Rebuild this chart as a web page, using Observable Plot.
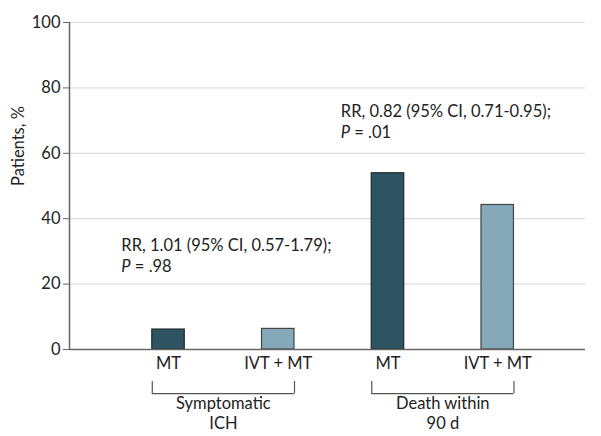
<!DOCTYPE html>
<html><head><meta charset="utf-8">
<script src="https://cdn.jsdelivr.net/npm/d3@7"></script>
<script src="https://cdn.jsdelivr.net/npm/@observablehq/plot@0.6"></script>
<style>body{margin:0;background:#fff}</style>
</head><body><div id="chart"></div>
<script>
const groups = ["Symptomatic\nICH", "Death within\n90 d"];
const treatments = ["MT", "IVT + MT"];
const positions = [1, 2, 3, 4];
const values = [6.1, 6.3, 53.9, 44.2];
const barTreatment = ["MT", "IVT + MT", "MT", "IVT + MT"];
const barGroup = [0, 0, 1, 1];
const annotations = ["RR, 1.01 (95% CI, 0.57-1.79);", "RR, 0.82 (95% CI, 0.71-0.95);"];
const pvals = [".98", ".01"];
const annotY = [31.8, 72.8];
const yTicks = [0, 20, 40, 60, 80, 100];

const bars = positions.map((p, i) => ({pos: p, value: values[i], t: barTreatment[i], g: barGroup[i]}));
const hw = 0.148;
const brackets = groups.map((g, i) => ({g, x1: positions[i*2] - hw, x2: positions[i*2+1] + hw, xm: (positions[i*2] + positions[i*2+1]) / 2}));
const ann = annotations.map((a, i) => ({a, p: pvals[i], x: positions[i*2] - 0.43, y: annotY[i]}));

const font = "Lato, sans-serif";
const fs = 16.5;
const chart = Plot.plot({
  width: 601, height: 436,
  marginLeft: 69, marginRight: 16, marginTop: 22, marginBottom: 87,
  style: {fontFamily: font, fontSize: fs + "px", color: "#222", background: "#fff"},
  x: {domain: [0.0975, 4.8], axis: null},
  y: {domain: [0, 100], axis: null},
  color: {domain: treatments, range: ["#2e5461", "#85a9b8"]},
  marks: [
    Plot.gridY(yTicks.filter(d => d > 0), {stroke: "#ddd", strokeOpacity: 1, strokeWidth: 1.2}),
    Plot.axisY(yTicks, {tickSize: 6, tickPadding: 3, stroke: "#666", fill: "#222", fontSize: fs, label: null}),
    Plot.text(["Patients, %"], {frameAnchor: "left", dx: -51, rotate: -90, fontSize: fs, fill: "#222"}),
    Plot.rectY(bars, {x1: d => d.pos - hw, x2: d => d.pos + hw, y: "value", fill: "t", stroke: d => d.t === "MT" ? "#1f2a2e" : "#444", strokeWidth: 1.2}),
    Plot.ruleY([0], {stroke: "#666", strokeWidth: 1.5}),
    Plot.ruleX([0.0975], {y1: 0, y2: 100, stroke: "#666", strokeWidth: 1.5}),
    Plot.axisX(positions, {tickSize: 0, tickPadding: 8, tickFormat: (d, i) => barTreatment[i], fontSize: fs, fill: "#222", label: null}),
    Plot.ruleY(brackets, {x1: "x1", x2: "x2", y: -13.5, stroke: "#555", strokeWidth: 1.2}),
    Plot.ruleX(brackets, {x: "x1", y1: -9.8, y2: -13.5, stroke: "#555", strokeWidth: 1.2}),
    Plot.ruleX(brackets, {x: "x2", y1: -9.8, y2: -13.5, stroke: "#555", strokeWidth: 1.2}),
    Plot.text(brackets, {x: "xm", y: -19.3, text: "g", lineAnchor: "middle", lineHeight: 1.2, fontSize: fs, fill: "#222"}),
    Plot.text(ann, {x: "x", y: "y", text: "a", textAnchor: "start", lineAnchor: "middle", fontSize: fs, fill: "#222"}),
    Plot.text(ann, {x: "x", y: d => d.y - 6.4, text: d => "P = " + d.p, textAnchor: "start", lineAnchor: "middle", fontSize: fs, fill: "#222"})
  ]
});
document.getElementById("chart").append(chart);
chart.querySelectorAll("text").forEach(t => {
  if (t.textContent.startsWith("P = ")) {
    const rest = t.textContent.slice(1);
    t.textContent = "";
    const ns = "http://www.w3.org/2000/svg";
    const a = document.createElementNS(ns, "tspan"); a.setAttribute("font-style", "italic"); a.textContent = "P";
    const b = document.createElementNS(ns, "tspan"); b.textContent = rest;
    t.append(a, b);
  }
});
</script>
</body></html>
